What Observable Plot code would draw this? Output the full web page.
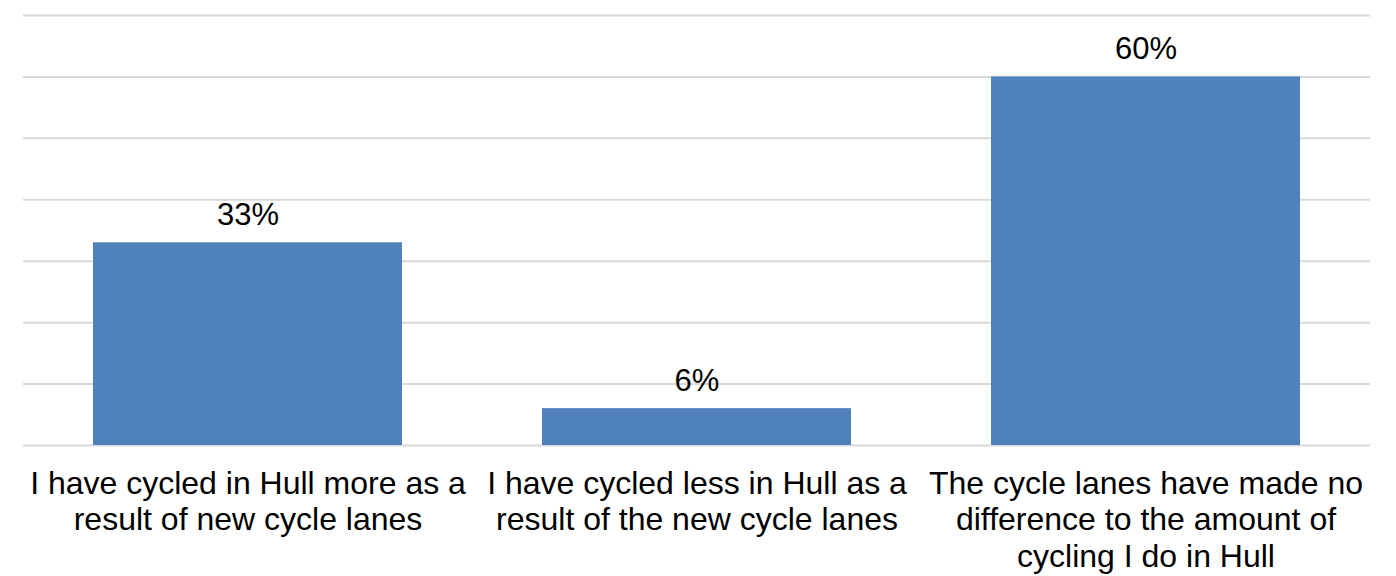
<!DOCTYPE html>
<html>
<head>
<meta charset="utf-8">
<script src="https://cdn.jsdelivr.net/npm/d3@7"></script>
<script src="https://cdn.jsdelivr.net/npm/@observablehq/plot@0.6"></script>
<style>
  html, body { margin: 0; padding: 0; background: #fff; }
  #chart svg { display: block; }
</style>
</head>
<body>
<div id="chart"></div>
<script>
const categories = [
  "I have cycled in Hull more as a\nresult of new cycle lanes",
  "I have cycled less in Hull as a\nresult of the new cycle lanes",
  "The cycle lanes have made no\ndifference to the amount of\ncycling I do in Hull"
];
const values = [33, 6, 60];
const valueLabels = ["33%", "6%", "60%"];
const yTicks = [0, 10, 20, 30, 40, 50, 60, 70];

const data = categories.map((c, i) => ({category: c, value: values[i], label: valueLabels[i]}));

const chart = Plot.plot({
  width: 1396,
  height: 576,
  marginLeft: 23,
  marginRight: 26,
  marginTop: 15,
  marginBottom: 131,
  style: {fontFamily: "'Liberation Sans', Arial, sans-serif", fontSize: "31px", color: "#000", background: "#fff"},
  x: {domain: categories, padding: 0, label: null, axis: null},
  y: {domain: [0, 70], label: null, axis: null},
  marks: [
    Plot.ruleY(yTicks, {stroke: "#d9d9d9", strokeWidth: 2}),
    Plot.barY(data, {x: "category", y: "value", fill: "#4f81bd", insetLeft: 70, insetRight: 70}),
    Plot.text(data, {x: "category", y: "value", text: "label", dy: -28, fontSize: 31, fill: "#000"}),
    Plot.axisX({tickSize: 0, tickPadding: 22, fontSize: 32, lineHeight: 1.15, fill: "#000", label: null}),
  ]
});
document.getElementById("chart").appendChild(chart);
</script>
</body>
</html>
